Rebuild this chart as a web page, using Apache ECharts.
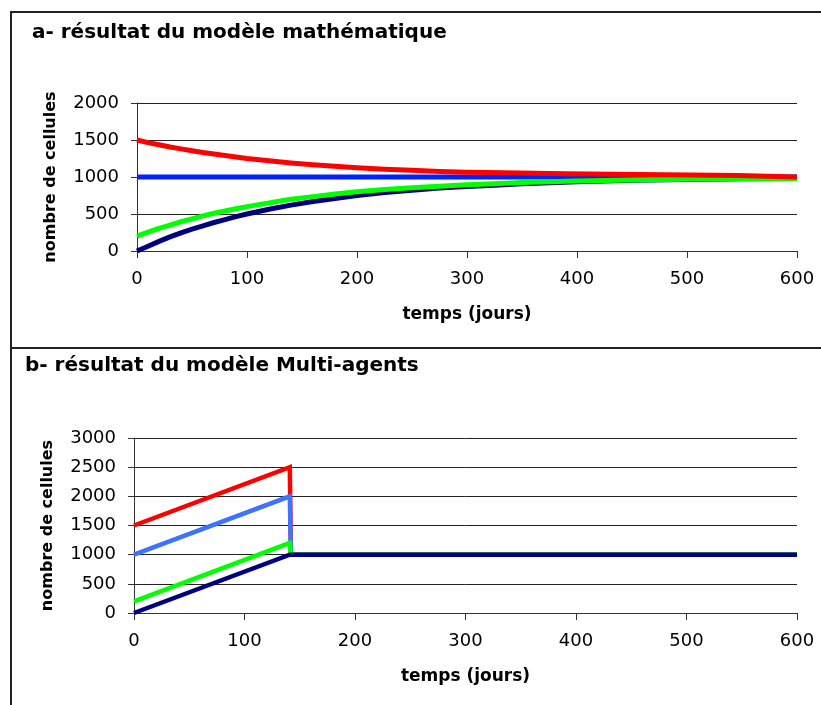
<!DOCTYPE html>
<html>
<head>
<meta charset="utf-8">
<script src="https://cdn.jsdelivr.net/npm/echarts@6/dist/echarts.min.js"></script>
<style>
html,body{margin:0;padding:0;background:#fff;overflow:hidden;}
#wrap{position:relative;width:821px;height:705px;}
#chart{position:absolute;left:0;top:0;width:821px;height:705px;}
</style>
</head>
<body>
<div id="wrap"><div id="chart"></div></div>
<script>
// ---- Data ----
const titleA = "a- résultat du modèle mathématique";
const titleB = "b- résultat du modèle Multi-agents";
const xName = "temps (jours)";
const yName = "nombre de cellules";

// Panel a: mathematical model
const daysA  = [0,10,20,30,40,50,60,70,80,90,100,120,140,160,180,200,225,250,275,300,325,350,400,450,500,550,600];
const navyA  = [0,65,130,190,245,295,340,385,425,465,500,565,620,670,710,750,790,820,850,870,890,910,935,955,965,975,980];
const greenA = [200,255,305,350,395,435,475,510,540,570,600,650,700,735,770,800,830,855,875,895,910,925,945,960,970,975,980];
const blueA  = [1000,1000,1000,1000,1000,1000,1000,1000,1000,1000,1000,1000,1000,1000,1000,1000,1000,1000,1000,1000,1000,1000,1000,1000,1000,1000,1000];
const daysRedA = [0,10,20,30,40,50,60,70,80,90,100,120,140,160,180,200,225,250,275,300,319,320,390,391,547,548,600];
const redA     = [1500,1465,1435,1405,1380,1355,1330,1310,1290,1270,1250,1220,1190,1165,1145,1125,1105,1090,1075,1065,1060,1045,1045,1020,1020,1000,1000];

// Panel b: multi-agent model
const daysB  = [0,141,142,600];
const redB   = [1500,2500,1000,1000];
const lblueB = [1000,2000,1000,1000];
const greenB = [200,1200,1000,1000];
const navyB  = [0,1000,1000,1000];

// Axis ticks
const xTicks = {min:0, max:600, interval:100};
const yTicksA = {min:0, max:2000, interval:500};
const yTicksB = {min:0, max:3000, interval:500};

// ---- Build ----
function pairs(xs, ys){ return xs.map((x,i)=>[x, ys[i]]); }
const FONT = 'DejaVu Sans';
const axisColor = '#333';
const plain = v => String(v);

function xAxis(gi){
  return {
    type:'value', gridIndex:gi, min:xTicks.min, max:xTicks.max, interval:xTicks.interval,
    name:xName, nameLocation:'middle', nameGap:55,
    nameTextStyle:{fontFamily:FONT, fontWeight:'bold', fontSize:17, color:'#000'},
    axisLine:{show:true, onZero:false, lineStyle:{color:axisColor, width:1}},
    axisTick:{show:true, length:7, inside:false, lineStyle:{color:axisColor}},
    axisLabel:{fontFamily:FONT, fontSize:18, color:'#000', margin:19, formatter:plain},
    splitLine:{show:false}
  };
}
function yAxis(gi, t){
  return {
    type:'value', gridIndex:gi, min:t.min, max:t.max, interval:t.interval,
    name:yName, nameLocation:'middle', nameGap:78,
    nameTextStyle:{fontFamily:FONT, fontWeight:'bold', fontSize:16, color:'#000'},
    axisLine:{show:true, lineStyle:{color:axisColor, width:1}},
    axisTick:{show:true, length:6, inside:false, lineStyle:{color:axisColor}},
    axisLabel:{fontFamily:FONT, fontSize:18, color:'#000', margin:18, formatter:plain},
    splitLine:{show:true, lineStyle:{color:'#222', width:1}}
  };
}
function line(gi, data, color, w){
  return {
    type:'line', xAxisIndex:gi, yAxisIndex:gi, data:data, showSymbol:false, symbol:'none',
    lineStyle:{color:color, width:w, cap:'butt', join:'miter'}, itemStyle:{color:color},
    animation:false, silent:true, z:2
  };
}

const chart = echarts.init(document.getElementById('chart'), null, {renderer:'canvas'});
chart.setOption({
  backgroundColor:'#fff',
  animation:false,
  title:[
    {text:titleA, left:32, top:23, padding:0, textStyle:{fontFamily:FONT, fontWeight:'bold', fontSize:20, color:'#000'}},
    {text:titleB, left:25, top:356, padding:0, textStyle:{fontFamily:FONT, fontWeight:'bold', fontSize:20, color:'#000'}}
  ],
  grid:[
    {left:137, right:24, top:103, height:148, containLabel:false},
    {left:134, right:24, top:438, height:175, containLabel:false}
  ],
  xAxis:[xAxis(0), xAxis(1)],
  yAxis:[yAxis(0, yTicksA), yAxis(1, yTicksB)],
  series:[
    line(0, pairs(daysA, navyA), '#000080', 5),
    line(0, pairs(daysA, blueA), '#0022FF', 5),
    line(0, pairs(daysA, greenA), '#00FF00', 5),
    line(0, pairs(daysRedA, redA), '#FF0000', 5),
    line(1, pairs(daysB, redB), '#FF0000', 4.5),
    line(1, pairs(daysB, lblueB), '#3D74FF', 4.5),
    line(1, pairs(daysB, greenB), '#00FF00', 4.5),
    line(1, pairs(daysB, navyB), '#000080', 4.5)
  ],
  graphic:[
    {type:'rect', shape:{x:10, y:11, width:2, height:700}, style:{fill:'#222'}, silent:true},
    {type:'rect', shape:{x:10, y:11, width:811, height:2}, style:{fill:'#222'}, silent:true},
    {type:'rect', shape:{x:10, y:347, width:811, height:2}, style:{fill:'#222'}, silent:true}
  ]
});
</script>
</body>
</html>
